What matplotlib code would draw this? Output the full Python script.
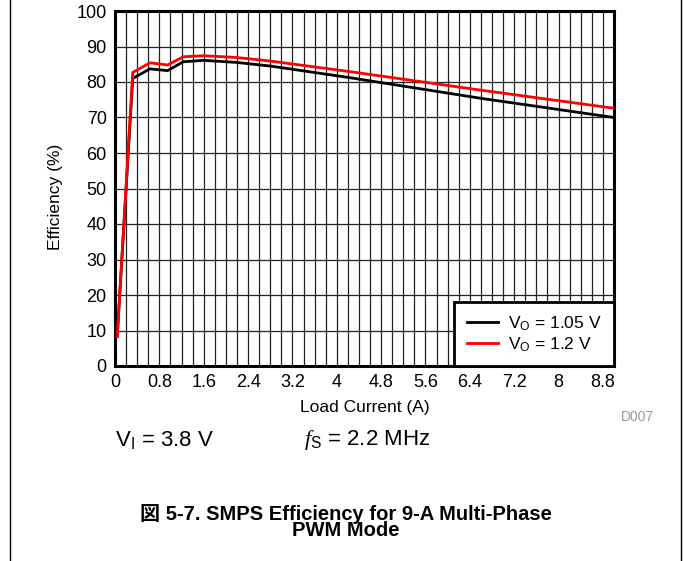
import numpy as np
import matplotlib
matplotlib.use('Agg')
import matplotlib.pyplot as plt
from matplotlib.lines import Line2D

plt.rcParams['font.family'] = ['Liberation Sans', 'DejaVu Sans']
plt.rcParams['mathtext.fontset'] = 'custom'
plt.rcParams['mathtext.rm'] = 'Liberation Sans'
plt.rcParams['mathtext.it'] = 'Liberation Serif:italic'

# data
current = [0.04, 0.32, 0.63, 0.95, 1.23, 1.6, 2.2, 2.8, 4.2, 6.6, 9.0]
eff_105 = [8.3, 81.0, 83.7, 83.2, 85.7, 86.1, 85.5, 84.5, 81.3, 75.4, 70.0]
eff_12 = [8.3, 82.7, 85.4, 84.8, 87.1, 87.4, 86.9, 85.9, 83.0, 77.7, 72.6]
labels = [r'V$_\mathregular{O}$ = 1.05 V', r'V$_\mathregular{O}$ = 1.2 V']
xticks = [0, 0.8, 1.6, 2.4, 3.2, 4, 4.8, 5.6, 6.4, 7.2, 8, 8.8]
xticklabels = ['0', '0.8', '1.6', '2.4', '3.2', '4', '4.8', '5.6', '6.4', '7.2', '8', '8.8']
yticks = list(range(0, 101, 10))

fig = plt.figure(figsize=(6.83, 5.61), dpi=100)
ax = fig.add_axes([115/683, 1-366/561, 499/683, 355/561])

# grid
for gx in np.arange(0.2, 9.0, 0.2):
    ax.axvline(gx, color='#222222', lw=0.9, zorder=1)
for gy in yticks[1:-1]:
    ax.axhline(gy, color='#222222', lw=0.9, zorder=1)

ax.plot(current, eff_105, color='black', lw=2, label=labels[0], zorder=3)
ax.plot(current, eff_12, color='red', lw=2, label=labels[1], zorder=4)

ax.set_xlim(0, 9)
ax.set_ylim(0, 100)
ax.set_xticks(xticks)
ax.set_xticklabels(xticklabels)
ax.set_yticks(yticks)
ax.tick_params(length=0, labelsize=13, pad=6)
for s in ax.spines.values():
    s.set_linewidth(2.2)
ax.set_xlabel('Load Current (A)', fontsize=12.5)
ax.xaxis.set_label_coords(0.5, -0.095)
ax.set_ylabel('Efficiency (%)', fontsize=12.5)
ax.yaxis.set_label_coords(-0.104, 0.476)

leg = ax.legend(loc='lower right', fontsize=12.5, frameon=True, fancybox=False,
                borderaxespad=0, handlelength=1.8, handletextpad=0.6,
                labelspacing=0.15, borderpad=0.7)
leg.get_frame().set_edgecolor('black')
leg.get_frame().set_linewidth(2)
leg.get_frame().set_alpha(1)

fig.text(637/683, 1-417/561, 'D007', color='#999999', fontsize=10, ha='center', va='center')
fig.text(115/683, 1-440/561, r'V$_\mathregular{I}$ = 3.8 V', fontsize=16, ha='left', va='center')
fig.text(304/683, 1-440/561, r'$f$$_\mathregular{S}$ = 2.2 MHz', fontsize=16, ha='left', va='center')

fig.text(346/683, 1-522/561, '図 5-7. SMPS Efficiency for 9-A Multi-Phase\nPWM Mode',
         fontsize=14.5, fontweight='bold', ha='center', va='center', linespacing=0.76,
         family=['Liberation Sans', 'Noto Sans CJK JP'])

fig.add_artist(Line2D([9.5/683, 9.5/683], [0, 1], color='black', lw=1))
fig.add_artist(Line2D([681/683, 681/683], [0, 1], color='black', lw=1))

fig.savefig('out.png', dpi=100)
